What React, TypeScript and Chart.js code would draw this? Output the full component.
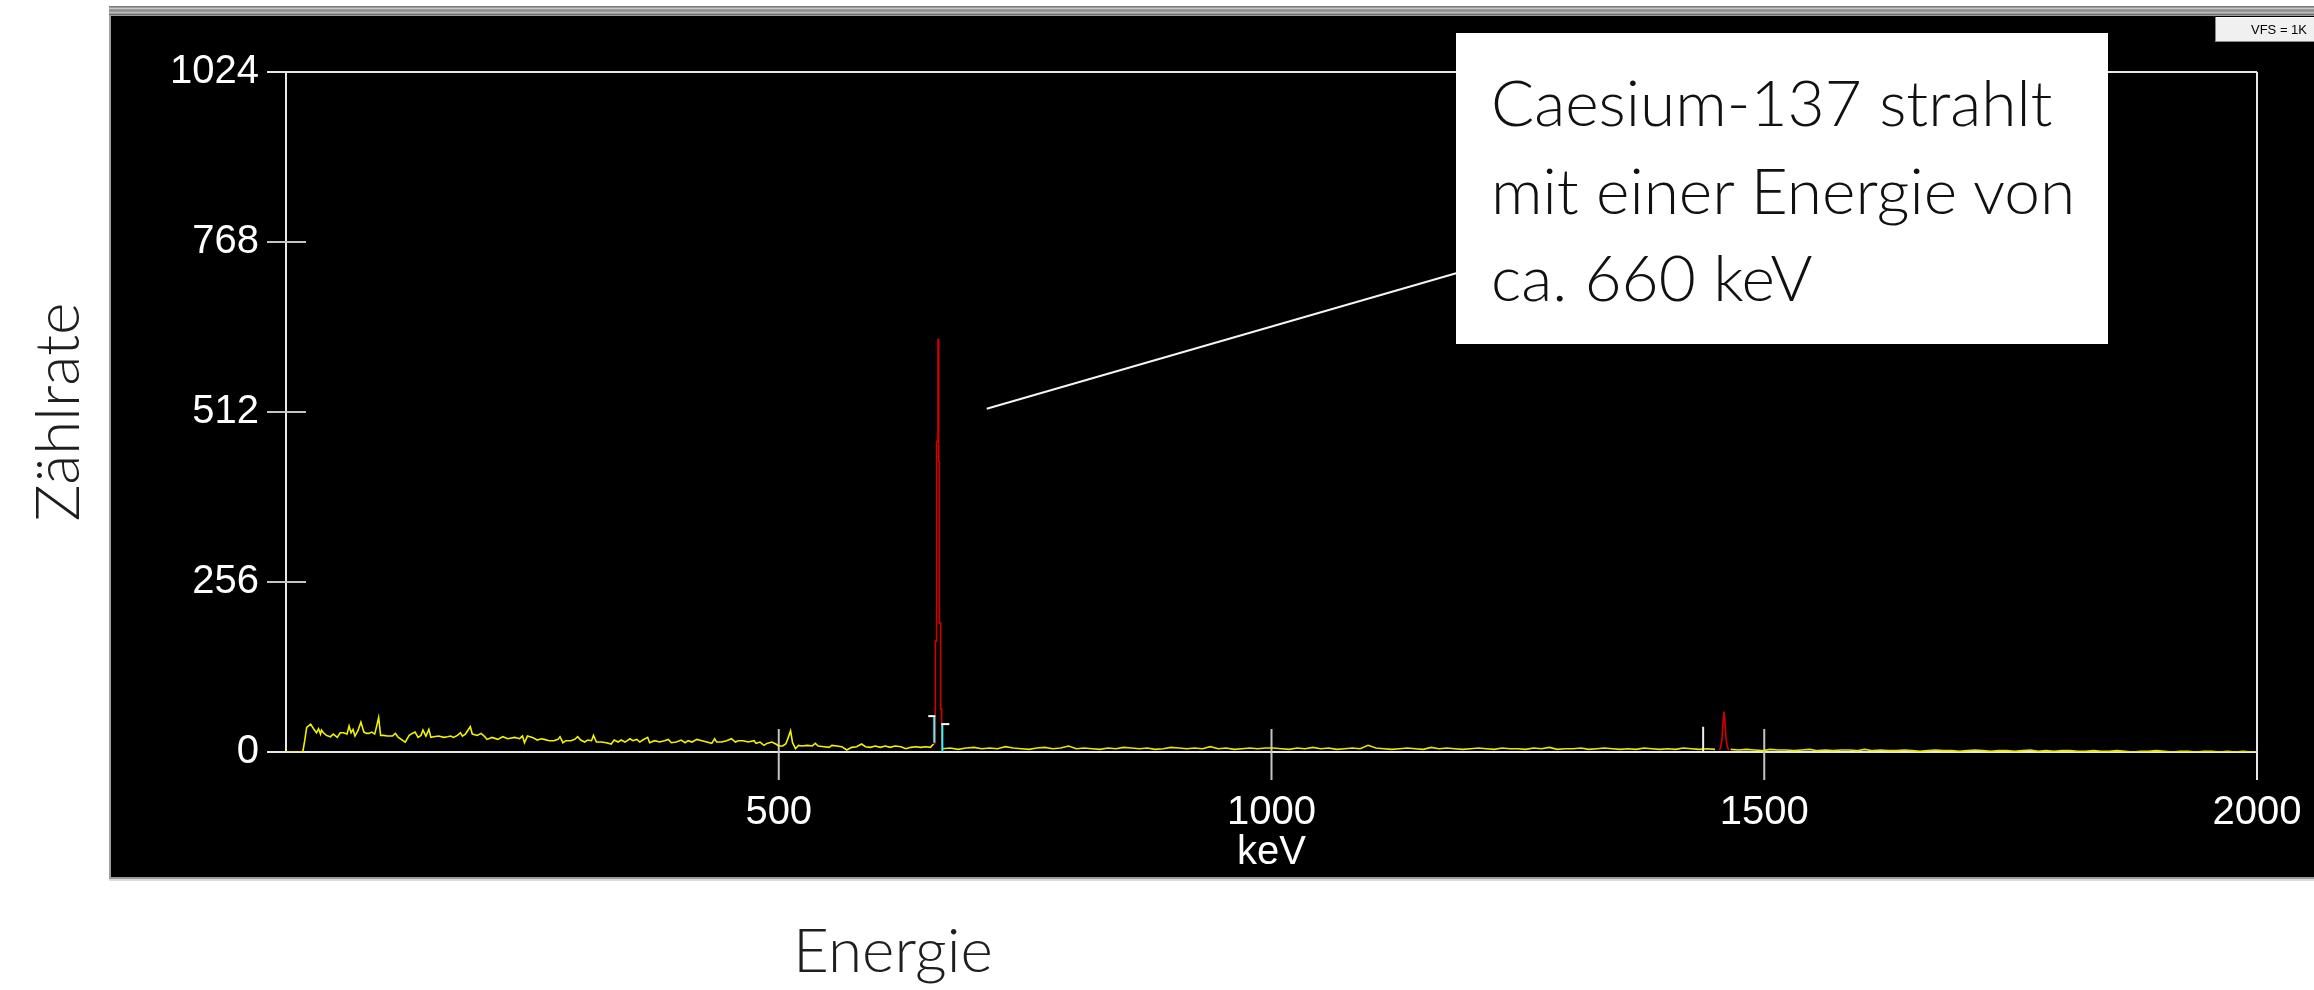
import React, { useEffect, useRef } from "react";
import { Chart, registerables } from "chart.js";

Chart.register(...registerables);

const W = 2314;
const H = 990;

// ---------- data ----------
// tick values
const xTickValues = [500, 1000, 1500, 2000];
const yTickValues = [0, 256, 512, 768, 1024];

// low-energy part of the spectrum (keV, counts) up to the Cs-137 ROI
const lowKeV = [
  0, 17, 19, 21, 25, 28, 31, 33, 35, 36,
  38, 41, 45, 48, 52, 55, 58, 62, 64, 66,
  68, 70, 73, 76, 79, 82, 84, 87, 90, 92,
  94, 96, 99, 103, 108, 111, 114, 121, 125, 128,
  131, 134, 137, 139, 142, 145, 147, 150, 155, 160,
  164, 167, 170, 174, 177, 179, 182, 187, 189, 194,
  198, 201, 204, 209, 215, 220, 225, 232, 237, 240,
  242, 245, 250, 255, 259, 262, 267, 272, 276, 278,
  281, 284, 289, 293, 296, 299, 303, 306, 310, 312,
  315, 320, 325, 330, 333, 337, 340, 344, 349, 352,
  356, 359, 362, 367, 369, 374, 379, 384, 388, 391,
  396, 401, 405, 408, 412, 417, 422, 427, 432, 435,
  437, 442, 447, 452, 456, 459, 464, 469, 475, 477,
  481, 485, 488, 493, 497, 500, 504, 507, 509, 512,
  514, 517, 520, 523, 529, 534, 537, 540, 546, 551,
  554, 559, 564, 569, 574, 579, 584, 588, 593, 598,
  603, 608, 613, 618, 624, 629, 634, 639, 644, 649,
  654, 657,
];
const lowCounts = [
  0, 0, 17, 37, 42, 35, 29, 35, 27, 33,
  29, 25, 23, 27, 22, 29, 29, 27, 39, 29,
  34, 24, 32, 45, 30, 28, 28, 30, 27, 39,
  52, 25, 25, 24, 24, 28, 22, 15, 25, 28,
  30, 22, 25, 33, 24, 34, 22, 23, 24, 22,
  23, 24, 22, 25, 29, 24, 27, 38, 27, 25,
  28, 24, 19, 22, 19, 23, 20, 22, 20, 24,
  14, 24, 22, 18, 20, 19, 17, 17, 19, 23,
  14, 17, 17, 19, 23, 18, 15, 18, 17, 25,
  15, 15, 14, 12, 18, 15, 18, 15, 20, 17,
  19, 15, 18, 22, 14, 17, 15, 17, 19, 14,
  15, 18, 14, 17, 15, 19, 17, 15, 13, 20,
  15, 15, 17, 20, 15, 17, 17, 15, 17, 13,
  15, 10, 13, 15, 12, 9, 9, 12, 19, 32,
  14, 5, 10, 9, 10, 9, 13, 9, 8, 7,
  10, 9, 8, 3, 7, 8, 12, 8, 7, 9,
  7, 9, 7, 9, 8, 5, 7, 8, 7, 8,
  7, 12,
];

// Cs-137 photopeak (ROI, red) — histogram: value starts at the given keV
const csKeV = [657.0, 657.8, 658.9, 660.2, 661.6, 662.3, 663.0, 664.3, 665.3, 665.8];
const csCounts = [12, 14, 167, 468, 621, 437, 194, 65, 12, 5];

// K-40 peak (ROI, red)
const kKeV = [1454, 1455.5, 1457, 1458, 1459, 1460, 1461, 1462.5, 1464];
const kCounts = [4, 5, 17, 40, 61, 48, 24, 8, 3];

// channel calibration of the flat parts of the spectrum
const midStartKeV = 666;
const highStartKeV = 1466;
const keVPerChannel = 8;
const midCounts = [
  5, 6, 4, 6, 7, 5, 6, 5, 8, 6,
  5, 4, 6, 7, 5, 6, 9, 5, 6, 5,
  4, 6, 5, 7, 6, 5, 6, 4, 5, 7,
  6, 5, 6, 5, 8, 5, 6, 4, 5, 6,
  5, 6, 6, 5, 4, 6, 5, 7, 5, 6,
  4, 5, 6, 5, 10, 6, 5, 4, 5, 6,
  5, 4, 7, 5, 6, 5, 4, 5, 6, 5,
  4, 6, 5, 5, 4, 6, 5, 7, 4, 5,
  5, 6, 4, 5, 6, 5, 4, 5, 4, 6,
  5, 4, 5, 4, 6, 5, 4, 5, 4,
];
const highCounts = [
  4, 3, 4, 3, 2, 4, 3, 3, 2, 3,
  4, 2, 3, 2, 3, 3, 2, 4, 2, 3,
  2, 2, 3, 2, 1, 2, 3, 2, 2, 1,
  2, 3, 2, 1, 2, 2, 1, 2, 3, 1,
  2, 1, 2, 2, 1, 1, 2, 1, 1, 2,
  1, 0, 1, 1, 2, 1, 0, 1, 1, 0,
  1, 1, 0, 1, 0, 1, 0, 0,
];

// ROI markers and cursor (keV, counts)
const roiLeft = { keV: 657.8, low: 14, high: 54 };
const roiRight = { keV: 666, low: 0, high: 42 };
const cursorMarker = { keV: 1438, high: 38 };
const pointerFrom = { keV: 711, counts: 517 };

// ---------- layout ----------
const ANN = { left: 1456, top: 33, width: 652, height: 311 };
const TICK_FONT = '"Liberation Sans", Arial, Helvetica, sans-serif';
const LIGHT_FONT = 'Lato, "Open Sans", "Noto Sans", sans-serif';

export default function App() {
  const ref = useRef<HTMLCanvasElement>(null);

  useEffect(() => {
    const canvas = ref.current;
    if (!canvas) return;

    const lowData = lowKeV.map((x, i) => ({ x, y: lowCounts[i] }));
    const csData = csKeV.map((x, i) => ({ x, y: csCounts[i] }));
    const kData = kKeV.map((x, i) => ({ x, y: kCounts[i] }));
    const midData = midCounts.map((y, i) => ({ x: midStartKeV + i * keVPerChannel, y }));
    const highData = highCounts.map((y, i) => ({ x: highStartKeV + i * keVPerChannel, y }));

    const panelPlugin = {
      id: "panel",
      beforeDraw(chart: any) {
        const ctx = chart.ctx;
        ctx.save();
        ctx.fillStyle = "#ffffff";
        ctx.fillRect(0, 0, W, H);
        // grey title band
        ctx.fillStyle = "#9c9c9c";
        ctx.fillRect(109, 6, W - 109, 10);
        const stripes: [number, string][] = [
          [6, "#7c7c7c"], [8, "#c6c6c6"], [10, "#8a8a8a"], [12, "#bcbcbc"], [14, "#707070"],
        ];
        stripes.forEach(([y, c]) => {
          ctx.fillStyle = c;
          ctx.fillRect(109, y, W - 109, 1);
        });
        // black panel
        ctx.fillStyle = "#000000";
        ctx.fillRect(109, 16, W - 109, 862);
        ctx.fillStyle = "#a0a0a0";
        ctx.fillRect(109, 16, 2, 862);
        ctx.fillStyle = "#9a9a9a";
        ctx.fillRect(109, 877, W - 109, 2);
        ctx.fillStyle = "#dcdcdc";
        ctx.fillRect(109, 879, W - 109, 2);
        // VFS button
        ctx.fillStyle = "#f0f0f0";
        ctx.fillRect(2215, 17, W - 2215, 25);
        ctx.fillStyle = "#8a8a8a";
        ctx.fillRect(2215, 17, 1, 25);
        ctx.fillRect(2215, 41, W - 2215, 1);
        ctx.fillStyle = "#ffffff";
        ctx.fillRect(2216, 17, W - 2216, 1);
        ctx.fillStyle = "#000000";
        ctx.font = `13px ${TICK_FONT}`;
        ctx.textAlign = "center";
        ctx.textBaseline = "middle";
        ctx.fillText("VFS = 1K", 2279, 30);
        ctx.restore();
      },
      beforeDatasetsDraw(chart: any) {
        const ctx = chart.ctx;
        const { left, right, top, bottom } = chart.chartArea;
        const xs = chart.scales.x;
        const ys = chart.scales.y;
        ctx.save();
        ctx.lineCap = "butt";
        ctx.strokeStyle = "#e8e8e8";
        ctx.lineWidth = 2;
        const line = (x1: number, y1: number, x2: number, y2: number) => {
          ctx.beginPath();
          ctx.moveTo(x1, y1);
          ctx.lineTo(x2, y2);
          ctx.stroke();
        };
        line(left - 19, top, right, top);
        line(left, top, left, bottom);
        line(left - 19, bottom, right + 1, bottom);
        line(right, top, right, bottom + 28);
        ctx.strokeStyle = "#c4c4c4";
        yTickValues
          .filter((v) => v !== yTickValues[0] && v !== yTickValues[yTickValues.length - 1])
          .forEach((v) => {
            const y = ys.getPixelForValue(v);
            line(left - 19, y, left + 20, y);
          });
        xTickValues
          .filter((v) => v !== xTickValues[xTickValues.length - 1])
          .forEach((v) => {
            const x = xs.getPixelForValue(v);
            line(x, bottom - 23, x, bottom + 28);
          });
        ctx.restore();
      },
      afterDatasetsDraw(chart: any) {
        const ctx = chart.ctx;
        const xs = chart.scales.x;
        const ys = chart.scales.y;
        ctx.save();
        ctx.lineWidth = 2;
        const line = (x1: number, y1: number, x2: number, y2: number, c: string) => {
          ctx.strokeStyle = c;
          ctx.beginPath();
          ctx.moveTo(x1, y1);
          ctx.lineTo(x2, y2);
          ctx.stroke();
        };
        // ROI brackets
        const lx = xs.getPixelForValue(roiLeft.keV);
        line(lx, ys.getPixelForValue(roiLeft.low), lx, ys.getPixelForValue(roiLeft.high), "#3ff4f4");
        line(lx - 6, ys.getPixelForValue(roiLeft.high), lx + 1, ys.getPixelForValue(roiLeft.high), "#ffffff");
        const rx = xs.getPixelForValue(roiRight.keV);
        line(rx, ys.getPixelForValue(roiRight.low), rx, ys.getPixelForValue(roiRight.high), "#3ff4f4");
        line(rx - 1, ys.getPixelForValue(roiRight.high), rx + 7, ys.getPixelForValue(roiRight.high), "#ffffff");
        // cursor marker
        const cx = xs.getPixelForValue(cursorMarker.keV);
        line(cx, ys.getPixelForValue(0), cx, ys.getPixelForValue(cursorMarker.high), "#f0f0f0");
        // pointer to annotation box
        line(
          xs.getPixelForValue(pointerFrom.keV),
          ys.getPixelForValue(pointerFrom.counts),
          ANN.left + 1,
          273,
          "#f4f4f4"
        );
        ctx.restore();
      },
    };

    const ds = (data: any[], color: string, stepped: any = false) => ({
      data,
      borderColor: color,
      backgroundColor: color,
      borderWidth: 1.6,
      pointRadius: 0,
      tension: 0,
      fill: false,
      stepped,
    });

    const chart = new Chart(canvas, {
      type: "line",
      data: {
        datasets: [
          ds(lowData, "#f2f200"),
          ds(midData, "#e6e600"),
          ds(highData, "#e6e600"),
          ds(csData, "#d00000", "before"),
          ds(kData, "#d20000"),
        ],
      },
      options: {
        responsive: false,
        animation: false,
        devicePixelRatio: 1,
        events: [],
        layout: { padding: { left: 0, right: 57, top: 72, bottom: 113 } },
        plugins: {
          legend: { display: false },
          tooltip: { enabled: false },
        },
        scales: {
          x: {
            type: "linear",
            min: 0,
            max: 2000,
            grid: { display: false, drawTicks: false },
            border: { display: false },
            afterBuildTicks: (s: any) => {
              s.ticks = xTickValues.map((value) => ({ value }));
            },
            afterFit: (s: any) => {
              s.height = 125;
              s.paddingLeft = 0;
              s.paddingRight = 0;
            },
            ticks: {
              color: "#ffffff",
              font: { family: TICK_FONT, size: 40 },
              padding: 37,
              autoSkip: false,
              maxRotation: 0,
              callback: (v: any) => String(v),
            },
            title: {
              display: true,
              text: "keV",
              color: "#ffffff",
              font: { family: TICK_FONT, size: 40 },
              padding: { top: 0, bottom: 0 },
            },
          },
          y: {
            type: "linear",
            min: 0,
            max: 1024,
            grid: { display: false, drawTicks: false },
            border: { display: false },
            afterBuildTicks: (s: any) => {
              s.ticks = yTickValues.map((value) => ({ value }));
            },
            afterFit: (s: any) => {
              s.width = 286;
              s.paddingTop = 0;
              s.paddingBottom = 0;
            },
            ticks: {
              color: "#ffffff",
              font: { family: TICK_FONT, size: 40 },
              padding: 27,
              autoSkip: false,
              callback: (v: any) => String(v),
            },
            title: {
              display: true,
              text: "Zählrate",
              color: "#1e1e1e",
              font: { family: LIGHT_FONT, size: 62, weight: "300" as any },
              padding: { top: 22, bottom: 0 },
            },
          },
        },
      },
      plugins: [panelPlugin],
    } as any);

    return () => chart.destroy();
  }, []);

  return (
    <div
      style={{
        position: "fixed",
        left: 0,
        top: 0,
        width: W,
        height: H,
        overflow: "hidden",
        background: "#ffffff",
      }}
    >
      <canvas
        ref={ref}
        width={W}
        height={H}
        style={{ position: "absolute", left: 0, top: 0, width: W, height: H }}
      />
      <div
        style={{
          position: "absolute",
          left: ANN.left,
          top: ANN.top,
          width: ANN.width,
          height: ANN.height,
          boxSizing: "border-box",
          background: "#ffffff",
          paddingLeft: 35,
          paddingTop: 25,
          fontFamily: LIGHT_FONT,
          fontWeight: 300,
          fontSize: 64,
          lineHeight: "87.5px",
          color: "#111111",
          whiteSpace: "nowrap",
        }}
      >
        <div>Caesium-137 strahlt</div>
        <div>mit einer Energie von</div>
        <div>ca. 660 keV</div>
      </div>
      <div
        style={{
          position: "absolute",
          left: 693,
          top: 911,
          width: 400,
          textAlign: "center",
          fontFamily: LIGHT_FONT,
          fontWeight: 300,
          fontSize: 62,
          lineHeight: 1.2,
          color: "#1e1e1e",
        }}
      >
        Energie
      </div>
    </div>
  );
}
